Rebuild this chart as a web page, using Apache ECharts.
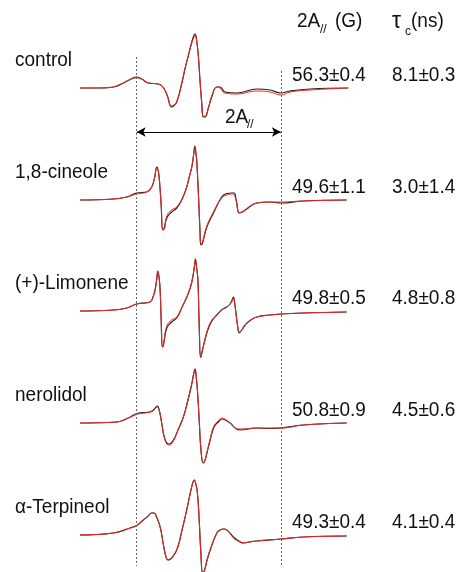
<!DOCTYPE html>
<html>
<head>
<meta charset="utf-8">
<script src="https://cdn.jsdelivr.net/npm/echarts@6/dist/echarts.min.js"></script>
<style>
html, body { margin: 0; padding: 0; background: #fff; }
#epr_chart { width: 457px; height: 572px; }
</style>
</head>
<body>
<div id="epr_chart"></div>
<script>
// sample labels and fitted parameters (right-hand columns)
var sampleNames = ['control', '1,8-cineole', '(+)-Limonene', 'nerolidol', 'α-Terpineol'];
var a2Values = ['56.3±0.4', '49.6±1.1', '49.8±0.5', '50.8±0.9', '49.3±0.4'];
var tauValues = ['8.1±0.3', '3.0±1.4', '4.8±0.8', '4.5±0.6', '4.1±0.4'];

// outer extrema of the control spectrum (G), marked by the dashed lines
var a2Left = 22.2;
var a2Right = 78.7;

// spectra: field (G, from start of sweep), experimental (black) and simulated (red) intensity, a.u.
var controlField = [0, 7.8, 13.1, 17.0, 20.0, 22.2, 24.2, 26.8, 30.7, 32.5, 34.1, 35.9, 36.8, 37.9, 39.9, 41.2, 42.5, 43.8, 44.7, 45.1, 45.7, 46.4, 47.0, 47.7, 48.3, 49.0, 50.3, 51.6, 53.6, 54.9, 56.8, 61.4, 69.3, 74.5, 78.7, 82.3, 90.2, 105.1];
var controlExp = [0, 0, 0.1, 0.5, 0.9, 1.1, 0.9, 0.5, 0.4, 0.1, -0.7, -1.9, -1.75, -1.4, 0.5, 2.0, 3.3, 4.6, 5.3, 5.4, 4.8, 3.1, 0.8, -1.5, -2.9, -2.9, -2.0, -0.9, 0.1, 0.1, -0.4, -0.5, -0.1, -0.2, -0.5, -0.3, -0.1, 0];
var controlSim = [0, 0, 0.1, 0.5, 0.9, 1.0, 0.9, 0.5, 0.4, 0.1, -0.7, -1.8, -1.7, -1.4, 0.5, 2.0, 3.3, 4.5, 5.1, 5.2, 4.7, 3.1, 0.8, -1.5, -2.8, -2.8, -2.0, -0.8, 0.1, 0.0, -0.5, -0.6, -0.3, -0.4, -0.7, -0.4, -0.2, 0];

var cineoleField = [0, 13.1, 18.3, 22.2, 26.1, 28.1, 29.2, 30.1, 30.6, 31.1, 31.8, 32.4, 32.9, 34.0, 35.9, 37.9, 40.0, 41.8, 42.9, 43.8, 44.5, 45.0, 45.5, 45.8, 46.5, 47.0, 47.4, 48.0, 49.7, 52.3, 55.5, 57.5, 59.5, 60.4, 61.2, 62.4, 63.5, 64.7, 69.3, 74.5, 78.7, 87.5, 104.5];
var cineoleExp = [0, 0.1, 0.3, 0.7, 0.8, 1.3, 2.2, 3.3, 3.0, 2.0, -0.5, -3.0, -2.9, -1.8, -1.2, -0.8, 0.1, 1.3, 2.4, 3.3, 4.5, 5.4, 4.5, 3.7, 0.0, -3.0, -4.5, -4.3, -2.7, -1.3, 0.3, 0.65, 0.7, 0.7, 0.0, -1.3, -1.2, -1.0, -0.3, -0.2, -0.3, -0.1, 0];
var cineoleSim = [0, 0.1, 0.3, 0.6, 0.8, 1.3, 2.2, 3.2, 3.0, 2.0, -0.5, -2.9, -2.9, -1.6, -1.0, -0.7, 0.1, 1.3, 2.4, 3.3, 4.5, 5.3, 4.5, 3.7, 0.0, -3.0, -4.4, -4.2, -2.6, -1.2, 0.2, 0.5, 0.6, 0.5, -0.1, -1.3, -1.2, -1.0, -0.3, -0.2, -0.2, -0.1, 0];

var limoneneField = [0, 13.1, 18.3, 22.2, 27.4, 28.6, 29.4, 30.0, 30.5, 31.0, 31.4, 31.8, 32.3, 32.7, 34.0, 35.9, 37.9, 40.0, 42.5, 43.9, 44.9, 45.2, 45.7, 46.2, 46.7, 47.3, 48.0, 49.7, 51.4, 53.6, 55.7, 57.5, 58.8, 59.6, 60.1, 60.6, 61.1, 61.7, 62.4, 63.1, 64.7, 66.6, 69.3, 74.5, 78.7, 87.5, 104.5];
var limoneneExp = [0, 0.1, 0.3, 0.7, 0.9, 1.4, 2.1, 3.1, 4.0, 3.3, 2.1, -0.9, -3.6, -3.4, -1.7, -1.1, -0.7, 0.4, 1.8, 3.0, 4.6, 5.2, 4.3, 3.1, -1.4, -4.65, -3.9, -2.2, -1.1, -0.4, 0.15, 0.4, 0.7, 1.1, 1.4, 0.8, -0.2, -1.4, -2.2, -2.0, -1.4, -0.95, -0.6, -0.4, -0.3, -0.2, -0.1];
var limoneneSim = [0, 0.1, 0.3, 0.7, 0.9, 1.4, 2.1, 3.0, 3.9, 3.3, 2.1, -0.9, -3.6, -3.3, -1.5, -0.9, -0.6, 0.4, 1.8, 3.0, 4.6, 5.1, 4.3, 3.1, -1.4, -4.6, -3.9, -2.1, -1.0, -0.4, 0.15, 0.4, 0.7, 1.0, 1.3, 0.8, -0.2, -1.4, -2.1, -2.0, -1.4, -0.95, -0.6, -0.4, -0.3, -0.2, -0.1];

var nerolidolField = [0, 14.4, 18.9, 22.9, 25.5, 27.4, 29.0, 30.3, 31.2, 32.0, 32.9, 34.0, 34.9, 36.6, 38.4, 40.5, 42.3, 43.7, 44.7, 45.1, 45.5, 46.0, 46.7, 47.4, 48.3, 49.0, 49.8, 51.0, 52.5, 54.2, 55.7, 56.6, 58.8, 60.8, 62.7, 69.3, 74.5, 78.7, 87.5, 104.5];
var nerolidolExp = [0, 0.1, 0.5, 1.0, 1.05, 1.1, 1.35, 1.7, 1.1, 0.0, -1.3, -2.0, -2.1, -1.7, -0.7, 0.6, 2.3, 3.8, 5.1, 5.4, 4.7, 3.3, 0.3, -2.7, -4.0, -3.7, -2.9, -1.7, -0.4, 0.1, 0.4, 0.35, 0.0, -0.5, -0.7, -0.5, -0.55, -0.5, -0.2, 0];
var nerolidolSim = [0, 0.1, 0.5, 0.9, 1.0, 1.1, 1.3, 1.6, 1.1, 0.0, -1.3, -2.1, -2.2, -1.8, -0.7, 0.6, 2.3, 3.8, 5.1, 5.3, 4.7, 3.3, 0.3, -2.7, -4.0, -3.7, -2.9, -1.6, -0.3, 0.2, 0.5, 0.4, 0.0, -0.5, -0.6, -0.5, -0.5, -0.5, -0.2, 0];

var terpineolField = [0, 13.1, 19.6, 22.2, 24.8, 26.7, 28.0, 29.0, 30.0, 31.4, 32.7, 33.7, 34.5, 35.7, 37.9, 39.8, 41.8, 43.3, 44.3, 44.8, 45.3, 46.0, 46.7, 47.3, 48.1, 48.8, 49.8, 51.0, 53.6, 54.9, 56.4, 58.0, 60.1, 61.9, 64.0, 66.2, 69.3, 78.7, 87.5, 104.5];
var terpineolExp = [0, 0.2, 0.7, 0.95, 1.5, 1.9, 2.2, 2.2, 1.8, 0.8, -1.0, -2.2, -2.5, -2.35, -1.5, 0.3, 2.5, 4.3, 5.3, 5.5, 5.2, 4.2, 1.5, -1.5, -3.8, -3.5, -2.5, -1.5, 0.2, 0.5, 0.6, 0.4, -0.2, -0.55, -0.8, -0.7, -0.6, -0.4, -0.2, -0.1];
var terpineolSim = [0, 0.2, 0.7, 0.95, 1.5, 1.9, 2.2, 2.2, 1.8, 0.8, -1.0, -2.2, -2.5, -2.35, -1.5, 0.3, 2.5, 4.3, 5.3, 5.5, 5.2, 4.2, 1.5, -1.5, -3.8, -3.5, -2.5, -1.5, 0.2, 0.5, 0.6, 0.4, -0.3, -0.6, -0.8, -0.7, -0.6, -0.4, -0.2, -0.1];

var spectra = [
    { field: controlField, exp: controlExp, sim: controlSim },
    { field: cineoleField, exp: cineoleExp, sim: cineoleSim },
    { field: limoneneField, exp: limoneneExp, sim: limoneneSim },
    { field: nerolidolField, exp: nerolidolExp, sim: nerolidolSim },
    { field: terpineolField, exp: terpineolExp, sim: terpineolSim }
];

// vertical stacking of the traces (a.u.)
var stackOffset = [48.4, 37.2, 26.1, 14.9, 3.7];

var font = '"Liberation Sans", Arial, Helvetica, sans-serif';

function traceData(field, values, offset) {
    var res = [];
    for (var i = 0; i < field.length; i++) {
        res.push([field[i], offset + values[i]]);
    }
    return res;
}

var chart = echarts.init(document.getElementById('epr_chart'));

var series = [];
spectra.forEach(function (s, k) {
    series.push({
        name: sampleNames[k] + ' exp',
        type: 'line',
        data: traceData(s.field, s.exp, stackOffset[k]),
        smooth: 0.45,
        showSymbol: false,
        lineStyle: { color: '#222', width: 1.2 },
        z: 2
    });
    series.push({
        name: sampleNames[k] + ' sim',
        type: 'line',
        data: traceData(s.field, s.sim, stackOffset[k]),
        smooth: 0.45,
        showSymbol: false,
        lineStyle: { color: '#f0281e', width: 1 },
        z: 3
    });
});

// dashed guides + 2A// arrow
series.push({
    type: 'line',
    data: [],
    silent: true,
    markLine: {
        silent: true,
        symbol: ['none', 'none'],
        label: { show: false },
        lineStyle: { color: '#666', type: [2, 2], width: 1 },
        data: [
            [{ coord: [a2Left, 51.5] }, { coord: [a2Left, 0.6] }],
            [{ coord: [a2Right, 50.1] }, { coord: [a2Right, 0.6] }]
        ]
    }
});
series.push({
    type: 'line',
    data: [],
    silent: true,
    markLine: {
        silent: true,
        symbol: ['arrow', 'arrow'],
        symbolSize: [7, 9],
        label: { show: false },
        lineStyle: { color: '#000', type: 'solid', width: 1 },
        data: [
            [{ coord: [a2Left, 44.0] }, { coord: [a2Right, 44.0] }]
        ]
    }
});

chart.setOption({
    backgroundColor: '#fff',
    animation: false,
    grid: { left: 80, right: 109, top: 0, bottom: 0 },
    xAxis: { type: 'value', min: 0, max: 105, show: false },
    yAxis: { type: 'value', min: 0, max: 57.2, show: false },
    series: series
});

function txt(text, x, y, size) {
    return {
        type: 'text',
        x: x,
        y: y,
        scaleY: 1.08,
        silent: true,
        style: {
            text: text,
            font: size + 'px ' + font,
            fill: '#111',
            textVerticalAlign: 'middle',
            verticalAlign: 'middle'
        }
    };
}

var graphics = [
    txt('2A', 297, 21, 19), txt('//', 320, 29, 12), txt('(G)', 335, 21, 19),
    txt('τ', 392, 21, 23), txt('c', 405, 31, 12), txt('(ns)', 411, 21, 19),
    txt('2A', 225, 117, 19), txt('//', 247, 124, 12)
];
stackOffset.forEach(function (off, k) {
    var base = chart.convertToPixel({ gridIndex: 0 }, [0, off])[1];
    graphics.push(txt(sampleNames[k], 15, base - 28, 19));
    graphics.push(txt(a2Values[k], 292, base - 13, 19));
    graphics.push(txt(tauValues[k], 392, base - 13, 19));
});
chart.setOption({ graphic: graphics });

window.addEventListener('resize', function () {
    chart.resize();
});
</script>
</body>
</html>
